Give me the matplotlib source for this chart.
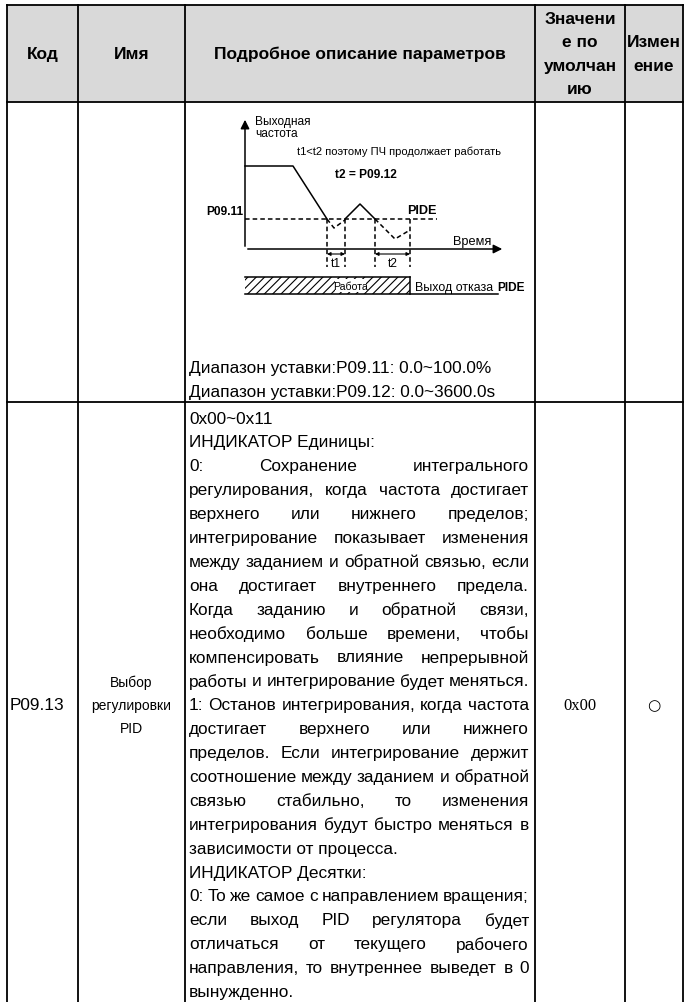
import matplotlib
matplotlib.use("Agg")
import matplotlib.pyplot as plt
from matplotlib.patches import Rectangle

plt.rcParams["font.family"] = ["Liberation Sans", "DejaVu Sans"]
plt.rcParams["hatch.linewidth"] = 0.8

# ── table layout (pixel grid of the page) ──────────────────────────────────
W, H = 686, 1003
col_edges = [7, 78, 185, 535, 625, 683]
row_edges = [6, 103, 403, 1003]
HEADER_BG = "#D9D9D9"

headers = [["Код"], ["Имя"], ["Подробное описание параметров"],
           ["Значени", "е по", "умолчан", "ию"], ["Измен", "ение"]]

range_lines = ["Диапазон уставки:P09.11: 0.0~100.0%",
               "Диапазон уставки:P09.12: 0.0~3600.0s"]

desc_lines = [
    "0x00~0x11",
    "ИНДИКАТОР Единицы:",
    "0: Сохранение интегрального",
    "регулирования, когда частота достигает",
    "верхнего или нижнего пределов;",
    "интегрирование показывает изменения",
    "между заданием и обратной связью, если",
    "она достигает внутреннего предела.",
    "Когда заданию и обратной связи,",
    "необходимо больше времени, чтобы",
    "компенсировать влияние непрерывной",
    "работы и интегрирование будет меняться.",
    "1: Останов интегрирования, когда частота",
    "достигает верхнего или нижнего",
    "пределов. Если интегрирование держит",
    "соотношение между заданием и обратной",
    "связью стабильно, то изменения",
    "интегрирования будут быстро меняться в",
    "зависимости от процесса.",
    "ИНДИКАТОР Десятки:",
    "0: То же самое с направлением вращения;",
    "если выход PID регулятора будет",
    "отличаться от текущего рабочего",
    "направления, то внутреннее выведет в 0",
    "вынужденно.",
]
justified = [0, 0, 1, 1, 1, 1, 1, 1, 1, 1, 1, 1, 1, 1, 1, 1, 1, 1, 0, 0, 1, 1, 1, 1, 0]

code = "P09.13"
name_lines = ["Выбор", "регулировки", "PID"]
default_val = "0x00"
modify_sym = "○"

# ── timing diagram (schematic, page pixels) ────────────────────────────────
ax_x0, ax_y0 = 245, 250
y_axis_top = 118
x_axis_end = 505
pide_y = 220
pide_end = 437
solid_parts = [[(245, 167), (293, 167), (327, 220)],
               [(345, 220), (360, 205), (375, 220)]]
dashed_parts = [[(327, 220), (334, 229), (345, 221)],
                [(375, 220), (395, 240), (410, 231)]]
t_marks = [327, 345, 375, 410]
bar_top, bar_bot = 278, 295
bar_end, bar_line_end = 410, 498

BODY = 12.4
HEAD = 12.5
SMALL = 8.6

fig = plt.figure(figsize=(W / 100, H / 100), dpi=100)
ax = fig.add_axes([0, 0, 1, 1])
ax.set_xlim(0, W)
ax.set_ylim(H, 0)
ax.axis("off")
renderer = fig.canvas.get_renderer()

# header background + grid
ax.add_patch(Rectangle((col_edges[0], row_edges[0]), col_edges[-1] - col_edges[0],
                       row_edges[1] - row_edges[0], facecolor=HEADER_BG, edgecolor="none"))
for y in row_edges[:-1]:
    ax.plot([col_edges[0], col_edges[-1]], [y, y], color="k", lw=1.3, solid_capstyle="projecting")
for x in col_edges:
    ax.plot([x, x], [row_edges[0], row_edges[-1]], color="k", lw=1.3, solid_capstyle="projecting")

# header text
hc = (row_edges[0] + row_edges[1]) / 2
for i, lines in enumerate(headers):
    cx = (col_edges[i] + col_edges[i + 1]) / 2
    n = len(lines)
    for k, s in enumerate(lines):
        ax.text(cx, hc + (k - (n - 1) / 2) * 23.3, s, ha="center", va="center",
                fontsize=HEAD, fontweight="bold")


def put_line(x0, x1, y, s, just, **kw):
    if not just:
        ax.text(x0, y, s, ha="left", va="center", **kw)
        return
    words = s.split()
    ts = [ax.text(0, y, w, ha="left", va="center", **kw) for w in words]
    ws = [t.get_window_extent(renderer).width for t in ts]
    gap = (x1 - x0 - sum(ws)) / max(len(words) - 1, 1)
    x = x0
    for t, w in zip(ts, ws):
        t.set_x(x)
        x += w + gap


tx0, tx1 = col_edges[2] + 4, col_edges[3] - 6

# row 1: diagram + ranges
for k, s in enumerate(range_lines):
    put_line(tx0, tx1, 368 + k * 24, s, False, fontsize=BODY)

for part in solid_parts:
    xs, ys = zip(*part)
    ax.plot(xs, ys, color="k", lw=1.1)
for part in dashed_parts:
    xs, ys = zip(*part)
    ax.plot(xs, ys, color="k", lw=1.1, ls=(0, (3, 2)))
ax.plot([ax_x0, pide_end], [pide_y, pide_y], color="k", lw=1.1, ls=(0, (3, 2)))
for x in t_marks:
    ax.plot([x, x], [pide_y, 268], color="k", lw=1.1, ls=(0, (3, 2)))
ax.annotate("", xy=(ax_x0, y_axis_top), xytext=(ax_x0, ax_y0),
            arrowprops=dict(arrowstyle="-|>", color="k", lw=1.1, mutation_scale=13))
ax.annotate("", xy=(x_axis_end, ax_y0), xytext=(ax_x0, ax_y0),
            arrowprops=dict(arrowstyle="-|>", color="k", lw=1.1, mutation_scale=13))
for a, b in [(t_marks[0], t_marks[1]), (t_marks[2], t_marks[3])]:
    ax.annotate("", xy=(b, 255), xytext=(a, 255),
                arrowprops=dict(arrowstyle="<|-|>", color="k", lw=0.8,
                                mutation_scale=5, shrinkA=0, shrinkB=0))
ax.text((t_marks[0] + t_marks[1]) / 2, 264, "t1", ha="center", va="center", fontsize=SMALL)
ax.text((t_marks[2] + t_marks[3]) / 2, 264, "t2", ha="center", va="center", fontsize=SMALL)

ax.add_patch(Rectangle((ax_x0, bar_top), bar_end - ax_x0, bar_bot - bar_top,
                       facecolor="white", edgecolor="k", lw=0, hatch="////"))
ax.add_patch(Rectangle((335, bar_top + 2), 31, bar_bot - bar_top - 4,
                       facecolor="white", edgecolor="none"))
ax.plot([ax_x0, bar_end], [bar_top, bar_top], color="k", lw=1.1)
ax.plot([bar_end, bar_end], [bar_top, bar_bot], color="k", lw=1.1)
ax.plot([ax_x0, bar_line_end], [bar_bot, bar_bot], color="k", lw=1.1)
ax.text(350, 287, "Работа", ha="center", va="center", fontsize=SMALL - 1)
ax.text(415, 288, "Выход отказа", ha="left", va="center", fontsize=SMALL + 0.3)
ax.text(497, 288, "PIDE", ha="left", va="center", fontsize=SMALL, fontweight="bold")

ax.text(255, 122, "Выходная", ha="left", va="center", fontsize=SMALL)
ax.text(255, 134, "частота", ha="left", va="center", fontsize=SMALL)
ax.text(297, 152, "t1<t2 поэтому ПЧ продолжает работать", ha="left", va="center", fontsize=8)
ax.text(335, 175, "t2 = P09.12", ha="left", va="center", fontsize=SMALL, fontweight="bold")
ax.text(407, 211, "PIDE", ha="left", va="center", fontsize=SMALL + 0.5, fontweight="bold")
ax.text(243, 212, "P09.11", ha="right", va="center", fontsize=SMALL, fontweight="bold")
ax.text(453, 242, "Время", ha="left", va="center", fontsize=9.2)

# row 2
y_first, step = 419, 23.9
for k, (s, j) in enumerate(zip(desc_lines, justified)):
    put_line(tx0, tx1, y_first + k * step, s, j, fontsize=BODY)

y_mid = y_first + 12 * step
ax.text(col_edges[0] + 3, y_mid, code, ha="left", va="center", fontsize=BODY)
for k, s in enumerate(name_lines):
    ax.text((col_edges[1] + col_edges[2]) / 2, y_mid + (k - 1) * 23.5, s,
            ha="center", va="center", fontsize=10)
ax.text((col_edges[3] + col_edges[4]) / 2, y_mid, default_val, ha="center", va="center",
        fontsize=12, family="Liberation Serif")
ax.text((col_edges[4] + col_edges[5]) / 2, y_mid, modify_sym, ha="center", va="center",
        fontsize=11, family="DejaVu Sans")

fig.savefig("out.png", dpi=100)
